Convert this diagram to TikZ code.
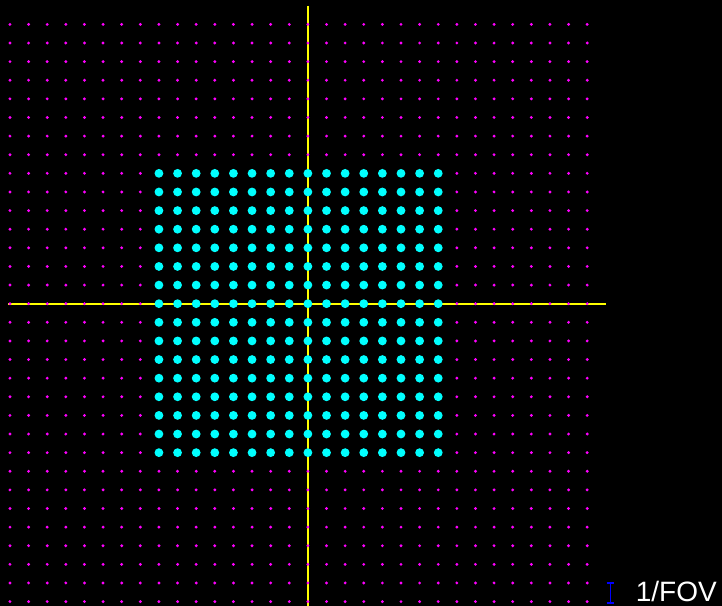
\documentclass[tikz,border=0pt]{standalone}
\usepackage{xcolor}
\usepackage{fontspec}
\setmainfont{Liberation Sans}
\usepackage{tikz}
\usetikzlibrary{positioning}

\definecolor{kyellow}{RGB}{255,255,0}
\definecolor{kmagenta}{RGB}{255,0,255}
\definecolor{kcyan}{RGB}{0,255,255}
\definecolor{kblue}{RGB}{0,0,255}

\begin{document}
\begin{tikzpicture}[
    x=18.62pt, y=18.62pt,
    axisline/.style={draw=kyellow, line width=1.8pt},
    griddot/.style={fill=kmagenta},
    sampledot/.style={fill=kcyan},
    fovbar/.style={draw=kblue, line width=1.8pt},
    fovtext/.style={text=white, inner sep=0pt, anchor=base west, font=\fontsize{28}{30}\selectfont}
]

% background and frame
\fill[black] (-16.536,-16.235) rectangle (22.24,16.31);
\useasboundingbox (-16.536,-16.235) rectangle (22.24,16.31);

% axes
\draw[axisline] (0,16.0) -- (0,-16.3);
\draw[axisline] (-16.1,0) -- (16.0,0);

% k-space grid
\foreach \i in {-16,...,15}
  \foreach \j in {-16,...,15}
    \fill[griddot] (\i,\j) circle (1.6pt);

% sampled points
\foreach \i in {-8,...,7}
  \foreach \j in {-8,...,7}
    \fill[sampledot] (\i,\j) circle (4.4pt);

% scale bar
\draw[fovbar] (16.05,-14.98) -- (16.45,-14.98)
              (16.25,-14.98) -- (16.25,-16.09)
              (16.05,-16.09) -- (16.45,-16.09);
\node[fovtext] (fovlabel) at (17.6,-16.02) {1/FOV};

\end{tikzpicture}
\end{document}
